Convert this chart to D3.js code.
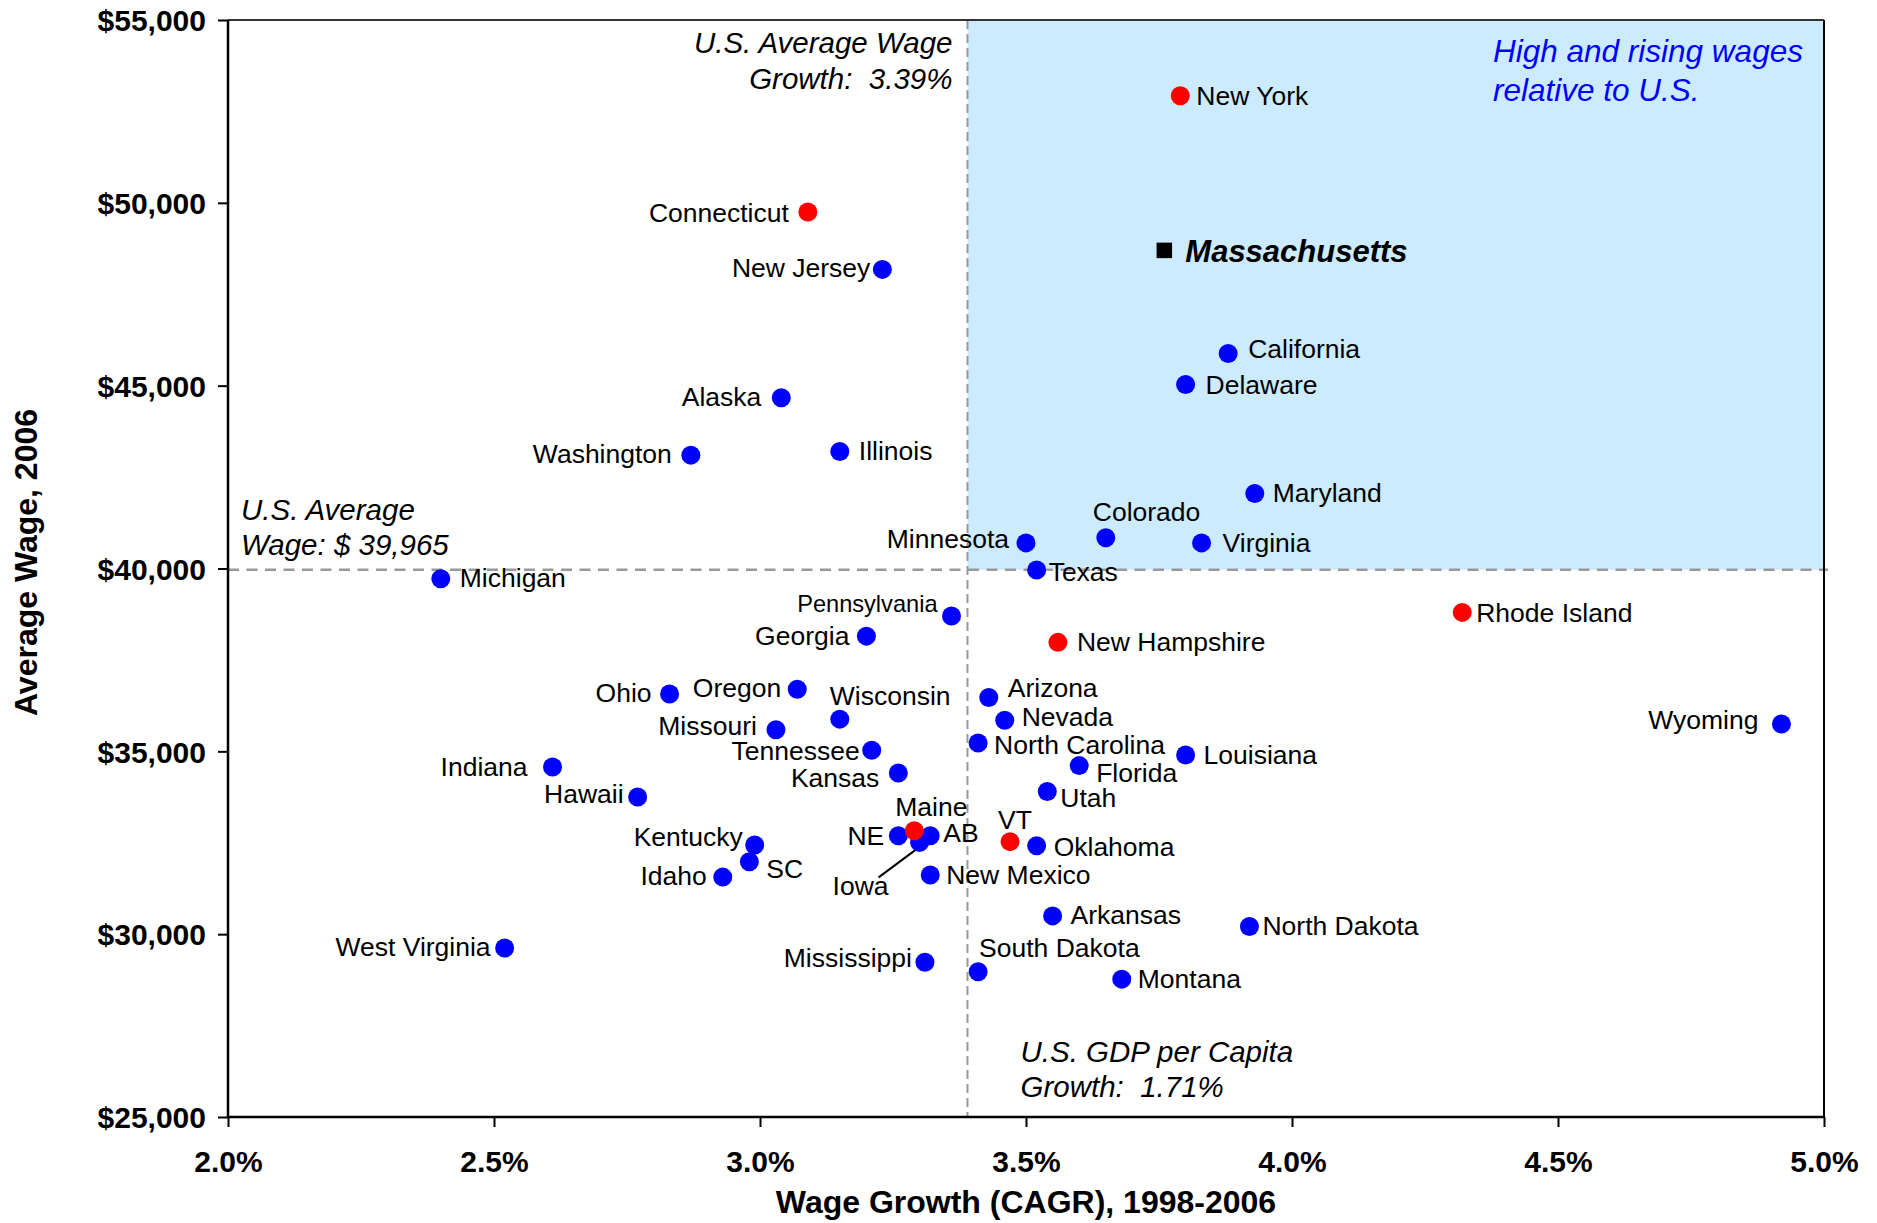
<!DOCTYPE html>
<html><head><meta charset="utf-8">
<script src="https://cdn.jsdelivr.net/npm/d3@7"></script>
<style>
body{margin:0;background:#fff}
text{font-family:"Liberation Sans",Arial,Helvetica,sans-serif}
</style>
</head><body>
<svg id="chart" width="1877" height="1223"></svg>
<script>
// ---------------- DATA ----------------
const states = ["New York","Connecticut","New Jersey","California","Delaware","Alaska","Washington","Illinois","Maryland","Colorado","Minnesota","Virginia","Texas","Michigan","Pennsylvania","Rhode Island","Georgia","New Hampshire","Ohio","Oregon","Arizona","Nevada","Wisconsin","Missouri","Wyoming","North Carolina","Tennessee","Louisiana","Indiana","Florida","Kansas","Utah","Hawaii","NE","Iowa","AB","Maine","VT","Oklahoma","Kentucky","SC","Idaho","New Mexico","Arkansas","North Dakota","West Virginia","Mississippi","South Dakota","Montana"];
const growth = [3.79,3.09,3.23,3.88,3.80,3.04,2.87,3.15,3.93,3.65,3.50,3.83,3.52,2.40,3.36,4.32,3.20,3.56,2.83,3.07,3.43,3.46,3.15,3.03,4.92,3.41,3.21,3.80,2.61,3.60,3.26,3.54,2.77,3.26,3.30,3.32,3.29,3.47,3.52,2.99,2.98,2.93,3.32,3.55,3.92,2.52,3.31,3.41,3.68];
const wage = [52930,49750,48180,45880,45030,44670,43100,43200,42050,40840,40700,40700,39960,39720,38700,38800,38150,37980,36570,36700,36470,35850,35880,35590,35750,35230,35030,34900,34570,34610,34410,33900,33750,32690,32510,32690,32830,32530,32420,32440,31980,31560,31620,30500,30210,29620,29230,28970,28770];
const newEngland = ["New York","Connecticut","Rhode Island","New Hampshire","Maine","VT"];
const highlightName = "Massachusetts";
const highlightGrowth = 3.76;
const highlightWage = 48700;
const usAvgWage = 39965;
const usAvgGrowth = 3.39;
const xTicks = [2.0,2.5,3.0,3.5,4.0,4.5,5.0];
const yTicks = [25000,30000,35000,40000,45000,50000,55000];
const xDomain = [2.0,5.0];
const yDomain = [25000,55000];
const xTitle = "Wage Growth (CAGR), 1998-2006";
const yTitle = "Average Wage, 2006";
const noteWage = ["U.S. Average","Wage: $ 39,965"];
const noteGrowth = ["U.S. Average Wage","Growth:  3.39%"];
const noteGdp = ["U.S. GDP per Capita","Growth:  1.71%"];
const noteQuadrant = ["High and rising wages","relative to U.S."];

// label layout (offsets from the point, in px): [dx, dy(center), anchor]
const labelLayout = {
 "New York":[16,0,"start"],"Connecticut":[-19,0,"end"],"New Jersey":[-12,-2,"end"],
 "California":[20,-5,"start"],"Delaware":[20,0,"start"],"Alaska":[-20,-1,"end"],
 "Washington":[-19,-2,"end"],"Illinois":[19,-1,"start"],"Maryland":[18,-1,"start"],
 "Colorado":[-13,-26,"start"],"Minnesota":[-17,-4,"end"],"Virginia":[21,0,"start"],
 "Texas":[12,1,"start"],"Michigan":[19,-1,"start"],"Pennsylvania":[-14,-13,"end"],
 "Georgia":[-17,-1,"end"],"Rhode Island":[14,0,"start"],"New Hampshire":[19,-1,"start"],
 "Ohio":[-18,-1,"end"],"Oregon":[-16,-2,"end"],"Wisconsin":[-10,-24,"start"],
 "Missouri":[-19,-4,"end"],"Arizona":[19,-10,"start"],"Nevada":[17,-4,"start"],
 "North Carolina":[16,2,"start"],"Tennessee":[-12,0,"end"],"Kansas":[-19,5,"end"],
 "Louisiana":[18,-1,"start"],"Florida":[17,7,"start"],"Indiana":[-25,-1,"end"],
 "Hawaii":[-14,-4,"end"],"Utah":[13,6,"start"],"Wyoming":[-23,-4,"end"],
 "Maine":[-19,-24,"start"],"NE":[-14,0,"end"],"AB":[13,-3,"start"],
 "Iowa":[-59,43,"middle"],"VT":[-12,-22,"start"],"Oklahoma":[17,1,"start"],
 "Kentucky":[-12,-8,"end"],"SC":[17,7,"start"],"Idaho":[-16,-2,"end"],
 "New Mexico":[16,0,"start"],"Arkansas":[18,-1,"start"],"North Dakota":[13,-1,"start"],
 "West Virginia":[-14,-2,"end"],"Mississippi":[-13,-5,"end"],"South Dakota":[1,-24,"start"],
 "Montana":[16,-1,"start"]
};

// ---------------- CHART ----------------
const svg = d3.select("#chart");
const M = {left:228, right:1824, top:20, bottom:1117};
const x = d3.scaleLinear().domain(xDomain).range([M.left, M.right]);
const y = d3.scaleLinear().domain(yDomain).range([M.bottom, M.top]);
const FONT_LABEL = 26.5;

const pts = states.map((s,i)=>({name:s, g:growth[i], w:wage[i], red:newEngland.includes(s)}));

// quadrant shading
svg.append("rect")
  .attr("x", x(usAvgGrowth)).attr("y", y(yDomain[1]))
  .attr("width", x(xDomain[1]) - x(usAvgGrowth))
  .attr("height", y(usAvgWage) - y(yDomain[1]))
  .attr("fill", "#CCEBFF");

// reference lines
svg.append("line")
  .attr("x1", x(usAvgGrowth)).attr("x2", x(usAvgGrowth))
  .attr("y1", y(yDomain[1])).attr("y2", y(yDomain[0]))
  .attr("stroke", "#999").attr("stroke-width", 2).attr("stroke-dasharray", "9,5");
svg.append("line")
  .attr("x1", x(xDomain[0])).attr("x2", x(xDomain[1]) + 4)
  .attr("y1", y(usAvgWage)).attr("y2", y(usAvgWage))
  .attr("stroke", "#999").attr("stroke-width", 2.5).attr("stroke-dasharray", "11,7.5");

// frame
svg.append("line").attr("x1",M.left).attr("x2",M.right).attr("y1",M.top).attr("y2",M.top)
  .attr("stroke","#333").attr("stroke-width",2);
svg.append("line").attr("x1",M.right).attr("x2",M.right).attr("y1",M.top).attr("y2",M.bottom)
  .attr("stroke","#000").attr("stroke-width",2);

// axes
const xAxis = d3.axisBottom(x).tickValues(xTicks).tickSize(10).tickPadding(24)
  .tickFormat(d => d.toFixed(1) + "%");
const yAxis = d3.axisLeft(y).tickValues(yTicks).tickSize(10).tickPadding(12)
  .tickFormat(d => "$" + d3.format(",")(d));

const gx = svg.append("g").attr("transform", `translate(0,${M.bottom})`).call(xAxis);
const gy = svg.append("g").attr("transform", `translate(${M.left},0)`).call(yAxis);
[gx, gy].forEach(g => {
  g.select(".domain").attr("stroke","#000").attr("stroke-width",2.5);
  g.selectAll(".tick line").attr("stroke","#000").attr("stroke-width",2);
  g.selectAll(".tick text").attr("fill","#000")
    .style("font-family",'"Liberation Sans",Arial,sans-serif')
    .style("font-size","30px").style("font-weight","bold");
});
gy.selectAll(".tick text").attr("dy","0.36em");
gx.selectAll(".tick text").attr("dy","0.69em");
gy.select(".domain").attr("d", `M0,${M.bottom}V${M.top}`);
gx.select(".domain").attr("d", `M${M.left},0H${M.right}`);

// axis titles
svg.append("text").attr("x", (M.left+M.right)/2).attr("y", 1213)
  .attr("text-anchor","middle").style("font-size","32px").style("font-weight","bold")
  .text(xTitle);
svg.append("text").attr("transform", `translate(37,${(M.top+M.bottom)/2 - 6}) rotate(-90)`)
  .attr("text-anchor","middle").style("font-size","32px").style("font-weight","bold")
  .text(yTitle);

// annotations
function note(lines, xPos, yBase, lh, anchor, size, color){
  lines.forEach((t,i)=>{
    svg.append("text").attr("x", xPos).attr("y", yBase + i*lh)
      .attr("text-anchor", anchor).style("font-size", size+"px")
      .style("font-style","italic").style("white-space","pre")
      .attr("fill", color).text(t);
  });
}
note(noteGrowth, x(usAvgGrowth) - 15, 53, 35.5, "end", 29.5, "#000");
note(noteWage, M.left + 13, 520, 35, "start", 29.5, "#000");
note(noteGdp, x(usAvgGrowth) + 53, 1062, 35, "start", 29.5, "#000");
note(noteQuadrant, 1493, 62, 38.5, "start", 31.5, "#0000FF");

// Iowa leader line
const iowa = pts.find(p => p.name === "Iowa");
svg.append("line")
  .attr("x1", x(iowa.g) - 41).attr("y1", y(iowa.w) + 35)
  .attr("x2", x(iowa.g) + 2).attr("y2", y(iowa.w) + 3)
  .attr("stroke","#000").attr("stroke-width",2);

// points: blue first, then red on top
const ordered = pts.filter(p=>!p.red).concat(pts.filter(p=>p.red));
svg.append("g").selectAll("circle").data(ordered).join("circle")
  .attr("cx", d => x(d.g)).attr("cy", d => y(d.w)).attr("r", 9.5)
  .attr("fill", d => d.red ? "#FF0000" : "#0000FF");

// labels
svg.append("g").selectAll("text").data(pts).join("text")
  .attr("x", d => x(d.g) + labelLayout[d.name][0])
  .attr("y", d => y(d.w) + labelLayout[d.name][1])
  .attr("dy", "0.36em")
  .attr("text-anchor", d => labelLayout[d.name][2])
  .style("font-size", d => (d.name === "Pennsylvania" ? 23.6 : FONT_LABEL) + "px")
  .attr("fill", "#000")
  .text(d => d.name);

// Massachusetts highlight
const ms = 15.5;
svg.append("rect")
  .attr("x", x(highlightGrowth) - ms/2).attr("y", y(highlightWage) - ms/2)
  .attr("width", ms).attr("height", ms).attr("fill", "#000");
svg.append("text")
  .attr("x", x(highlightGrowth) + 21).attr("y", y(highlightWage)).attr("dy","0.36em")
  .style("font-size","31px").style("font-weight","bold").style("font-style","italic")
  .text(highlightName);
</script>
</body></html>
